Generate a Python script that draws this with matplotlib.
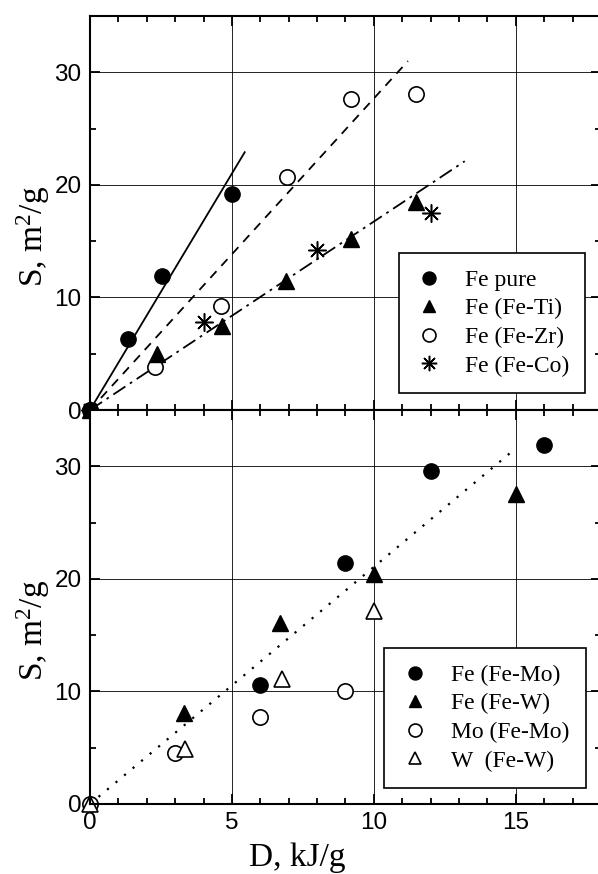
import matplotlib
matplotlib.use('Agg')
import matplotlib.pyplot as plt
from matplotlib.ticker import MultipleLocator

plt.rcParams['font.family'] = 'Liberation Sans'
plt.rcParams['mathtext.fontset'] = 'custom'
plt.rcParams['mathtext.rm'] = 'Liberation Serif'
plt.rcParams['mathtext.it'] = 'Liberation Serif:italic'

# top panel data
fe_pure_x = [0, 1.33, 2.55, 5.0]
fe_pure_y = [0, 6.3, 11.9, 19.2]
fe_ti_x = [0, 2.35, 4.65, 6.9, 9.2, 11.5]
fe_ti_y = [0, 5.0, 7.5, 11.5, 15.2, 18.5]
fe_zr_x = [0, 2.3, 4.6, 6.95, 9.2, 11.5]
fe_zr_y = [0, 3.85, 9.2, 20.7, 27.6, 28.1]
fe_co_x = [0, 4.0, 8.0, 12.0]
fe_co_y = [0, 7.8, 14.2, 17.5]
fit1_x = [0, 5.45]
fit1_y = [0, 22.9]
fit2_x = [0, 11.2]
fit2_y = [0, 31.0]
fit3_x = [0, 13.2]
fit3_y = [0, 22.1]

# bottom panel data
fe_mo_x = [6.0, 9.0, 12.0, 16.0]
fe_mo_y = [10.6, 21.4, 29.6, 31.9]
fe_w_x = [3.3, 6.7, 10.0, 15.0]
fe_w_y = [8.05, 16.1, 20.4, 27.5]
mo_x = [0, 3.0, 6.0, 9.0]
mo_y = [0, 4.5, 7.7, 10.05]
w_x = [0, 3.35, 6.75, 10.0]
w_y = [0, 4.85, 11.1, 17.15]
fit4_x = [0, 15.0]
fit4_y = [0, 31.6]

W, H = 598, 874
fig = plt.figure(figsize=(W / 100, H / 100), dpi=100)
left = 90 / W
width = 511 / W
ax1 = fig.add_axes([left, (H - 410) / H, width, 394 / H])
ax2 = fig.add_axes([left, (H - 804) / H, width, 394 / H])

ms = 11
for ax in (ax1, ax2):
    ax.set_xlim(0, 18)
    ax.set_ylim(0, 35)
    ax.xaxis.set_major_locator(MultipleLocator(5))
    ax.xaxis.set_minor_locator(MultipleLocator(1))
    ax.yaxis.set_major_locator(MultipleLocator(10))
    ax.yaxis.set_minor_locator(MultipleLocator(5))
    ax.tick_params(which='both', direction='in', top=True, right=True, width=1.3)
    ax.tick_params(which='major', length=7, labelsize=17.5, pad=6)
    ax.tick_params(which='minor', length=4)
    ax.grid(True, which='major', color='black', lw=0.6)
    for s in ax.spines.values():
        s.set_linewidth(1.5)
    ax.set_ylabel('S, m$^\\mathrm{2}$/g', family='Liberation Serif', fontsize=24)
    ax.yaxis.set_label_coords(-0.075, 0.44)

ax1.tick_params(labelbottom=False)

ax1.plot(fit1_x, fit1_y, color='black', lw=1.3, ls='-')
ax1.plot(fit2_x, fit2_y, color='black', lw=1.3, ls=(0, (5, 4)))
ax1.plot(fit3_x, fit3_y, color='black', lw=1.3, ls=(0, (8, 3, 1.5, 3)))
ax1.plot(fe_pure_x, fe_pure_y, 'o', color='black', ms=ms, ls='none', clip_on=False, zorder=5, label='Fe pure')
ax1.plot(fe_ti_x, fe_ti_y, '^', color='black', ms=ms, ls='none', clip_on=False, zorder=5, label='Fe (Fe-Ti)')
ax1.plot(fe_zr_x, fe_zr_y, 'o', mfc='white', mec='black', mew=1.2, ms=ms, ls='none', clip_on=False, zorder=4, label='Fe (Fe-Zr)')
ax1.plot(fe_co_x, fe_co_y, marker=(8, 2, 0), color='black', mew=1.1, ms=ms + 2, ls='none', clip_on=False, zorder=5, label='Fe (Fe-Co)')

ax2.plot(fit4_x, fit4_y, color='black', lw=1.6, ls=(0, (1, 4)))
ax2.plot(fe_mo_x, fe_mo_y, 'o', color='black', ms=ms, ls='none', clip_on=False, label='Fe (Fe-Mo)')
ax2.plot(fe_w_x, fe_w_y, '^', color='black', ms=ms, ls='none', clip_on=False, label='Fe (Fe-W)')
ax2.plot(mo_x, mo_y, 'o', mfc='white', mec='black', mew=1.2, ms=ms, ls='none', clip_on=False, label='Mo (Fe-Mo)')
ax2.plot(w_x, w_y, '^', mfc='white', mec='black', mew=1.2, ms=ms, ls='none', clip_on=False, label='W  (Fe-W)')

ax2.set_xlabel('D, kJ/g', family='Liberation Serif', fontsize=24)
ax2.xaxis.set_label_coords(0.405, -0.098)
ax2.xaxis.label.set_va('top')

leg_kw = dict(prop={'family': 'Liberation Serif', 'size': 17}, fancybox=False,
              edgecolor='black', framealpha=1, markerscale=0.85, handlelength=1.2,
              labelspacing=0.3, borderpad=0.7, handletextpad=0.9)
l1 = ax1.legend(loc='center', bbox_to_anchor=((492 - 90) / 511, (410 - 323) / 394), **leg_kw)
l2 = ax2.legend(loc='center', bbox_to_anchor=((485 - 90) / 511, (804 - 718) / 394), **leg_kw)
for l in (l1, l2):
    l.get_frame().set_linewidth(1.2)

fig.savefig('out.png', dpi=100)
